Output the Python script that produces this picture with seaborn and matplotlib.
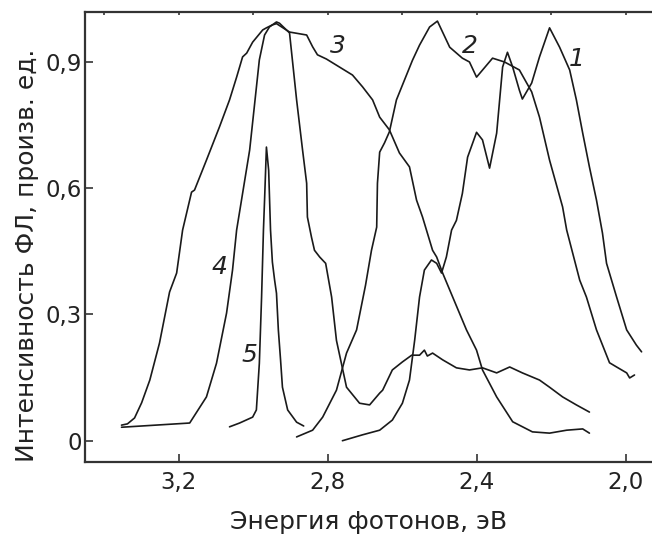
import numpy as np
import pandas as pd
import matplotlib
matplotlib.use("Agg")
import matplotlib.pyplot as plt
import seaborn as sns

# ---- data (photon energy, eV ; PL intensity, arb. units) ----
e1 = [2.760, 2.706, 2.660, 2.626, 2.599, 2.580, 2.566, 2.553, 2.540, 2.521, 2.507, 2.494,
      2.481, 2.467, 2.454, 2.438, 2.424, 2.400, 2.384, 2.365, 2.346, 2.330, 2.317, 2.303,
      2.285, 2.277, 2.252, 2.231, 2.204, 2.177, 2.150, 2.132, 2.115, 2.097, 2.078, 2.062,
      2.051, 2.024, 1.997, 1.971, 1.957]
i1 = [0.000, 0.014, 0.025, 0.049, 0.089, 0.144, 0.239, 0.341, 0.405, 0.429, 0.421, 0.398,
      0.436, 0.500, 0.523, 0.587, 0.673, 0.732, 0.714, 0.647, 0.730, 0.887, 0.922, 0.887,
      0.832, 0.811, 0.849, 0.911, 0.980, 0.934, 0.880, 0.809, 0.730, 0.650, 0.571, 0.493,
      0.421, 0.341, 0.263, 0.227, 0.211]

e2 = [2.883, 2.840, 2.813, 2.776, 2.749, 2.722, 2.698, 2.682, 2.668, 2.666, 2.660, 2.647,
      2.634, 2.615, 2.572, 2.553, 2.526, 2.505, 2.472, 2.438, 2.419, 2.400, 2.357, 2.325,
      2.285, 2.252, 2.231, 2.204, 2.169, 2.158, 2.123, 2.105, 2.078, 2.043, 2.024, 1.997,
      1.989, 1.976]
i2 = [0.009, 0.025, 0.056, 0.120, 0.208, 0.263, 0.369, 0.452, 0.507, 0.611, 0.685, 0.707,
      0.733, 0.809, 0.903, 0.939, 0.982, 0.996, 0.934, 0.908, 0.899, 0.863, 0.908, 0.899,
      0.880, 0.828, 0.768, 0.666, 0.555, 0.500, 0.381, 0.341, 0.263, 0.185, 0.175, 0.161,
      0.149, 0.156]

e3 = [3.353, 3.337, 3.318, 3.299, 3.277, 3.251, 3.224, 3.205, 3.189, 3.165, 3.157, 3.125,
      3.090, 3.063, 3.044, 3.028, 3.017, 3.001, 2.974, 2.964, 2.948, 2.937, 2.902, 2.856,
      2.840, 2.827, 2.803, 2.768, 2.733, 2.706, 2.679, 2.660, 2.634, 2.607, 2.580, 2.561,
      2.545, 2.518, 2.507, 2.491, 2.464, 2.427, 2.400, 2.384, 2.346, 2.303, 2.250, 2.204,
      2.158, 2.115, 2.097]
i3 = [0.037, 0.040, 0.054, 0.090, 0.144, 0.232, 0.353, 0.398, 0.500, 0.590, 0.595, 0.666,
      0.745, 0.809, 0.863, 0.911, 0.920, 0.946, 0.975, 0.980, 0.987, 0.990, 0.970, 0.963,
      0.935, 0.916, 0.906, 0.887, 0.868, 0.840, 0.809, 0.768, 0.738, 0.683, 0.650, 0.571,
      0.531, 0.452, 0.436, 0.398, 0.341, 0.263, 0.215, 0.168, 0.104, 0.045, 0.021, 0.018,
      0.025, 0.028, 0.018]

e4 = [3.353, 3.170, 3.125, 3.098, 3.071, 3.055, 3.044, 3.009, 2.983, 2.969, 2.956, 2.937,
      2.929, 2.902, 2.883, 2.867, 2.856, 2.854, 2.843, 2.835, 2.821, 2.805, 2.789, 2.776,
      2.749, 2.714, 2.687, 2.660, 2.652, 2.626, 2.599, 2.574, 2.553, 2.540, 2.532, 2.518,
      2.491, 2.454, 2.419, 2.384, 2.346, 2.311, 2.277, 2.231, 2.204, 2.169, 2.132, 2.097]
i4 = [0.032, 0.042, 0.104, 0.184, 0.303, 0.405, 0.500, 0.690, 0.904, 0.963, 0.982, 0.994,
      0.991, 0.968, 0.809, 0.690, 0.611, 0.531, 0.483, 0.452, 0.436, 0.421, 0.341, 0.238,
      0.127, 0.089, 0.085, 0.113, 0.120, 0.168, 0.187, 0.203, 0.203, 0.215, 0.201, 0.208,
      0.192, 0.173, 0.168, 0.173, 0.161, 0.175, 0.161, 0.144, 0.127, 0.104, 0.085, 0.068]

e5 = [3.063, 3.036, 3.001, 2.991, 2.983, 2.977, 2.972, 2.969, 2.964, 2.958, 2.953, 2.948,
      2.942, 2.937, 2.932, 2.926, 2.921, 2.907, 2.883, 2.864]
i5 = [0.033, 0.042, 0.056, 0.073, 0.184, 0.341, 0.500, 0.571, 0.697, 0.642, 0.500, 0.424,
      0.381, 0.350, 0.263, 0.191, 0.127, 0.073, 0.044, 0.035]

curve_names = ["1", "2", "3", "4", "5"]
label_e = [2.132, 2.419, 2.772, 3.090, 3.009]
label_i = [0.905, 0.937, 0.937, 0.412, 0.203]

x_ticks = [3.2, 2.8, 2.4, 2.0]
x_ticklabels = ["3,2", "2,8", "2,4", "2,0"]
x_top_ticks = [3.4, 3.2, 3.0, 2.8, 2.6, 2.4, 2.2, 2.0]
y_ticks = [0.0, 0.3, 0.6, 0.9]
y_ticklabels = ["0", "0,3", "0,6", "0,9"]
x_title = "Энергия фотонов, эВ"
y_title = "Интенсивность ФЛ, произв. ед."

frames = []
for name, e, i in zip(curve_names, [e1, e2, e3, e4, e5], [i1, i2, i3, i4, i5]):
    frames.append(pd.DataFrame({"E": e, "I": i, "curve": name}))
df = pd.concat(frames, ignore_index=True)

sns.set_theme(style="white")
plt.rcParams["font.family"] = ["DejaVu Sans"]

fig = plt.figure(figsize=(6.52, 5.37), dpi=100)
ax = fig.add_axes([85 / 652, 1 - 461.7 / 537, 1 - 85 / 652, (461.7 - 12) / 537])

sns.lineplot(data=df, x="E", y="I", units="curve", estimator=None, sort=False,
             color="#1a1a1a", linewidth=1.2, ax=ax, legend=False)

ax.set_xlim(3.451, 1.929)
ax.set_ylim(-0.0498, 1.0176)

ax.set_xticks(x_ticks)
ax.set_xticklabels(x_ticklabels)
ax.set_yticks(y_ticks)
ax.set_yticklabels(y_ticklabels)

for s in ["left", "bottom", "top"]:
    ax.spines[s].set_color("#333333")
    ax.spines[s].set_linewidth(1.6)
ax.spines["right"].set_visible(False)

ax.tick_params(axis="both", direction="in", length=6, width=1.2, color="#333333",
               labelsize=16.5, labelcolor="#222222")
ax.tick_params(axis="x", pad=7, bottom=True, top=False)
ax.tick_params(axis="y", pad=2, left=True, right=False)

sec = ax.secondary_xaxis("top")
sec.set_xticks(x_top_ticks)
sec.tick_params(direction="in", length=2, width=1.2, color="#333333", labeltop=False)
sec.spines["top"].set_visible(False)

ax.set_xlabel(x_title, fontsize=18, color="#222222")
ax.set_ylabel(y_title, fontsize=18, color="#222222")
ax.xaxis.set_label_coords(0.5, -0.108)
ax.yaxis.set_label_coords(-0.082, 0.46)

for name, xe, yi in zip(curve_names, label_e, label_i):
    ax.text(xe, yi, name, fontsize=18, style="italic", ha="center", va="center",
            color="#222222")

fig.savefig("out.png", dpi=100)
